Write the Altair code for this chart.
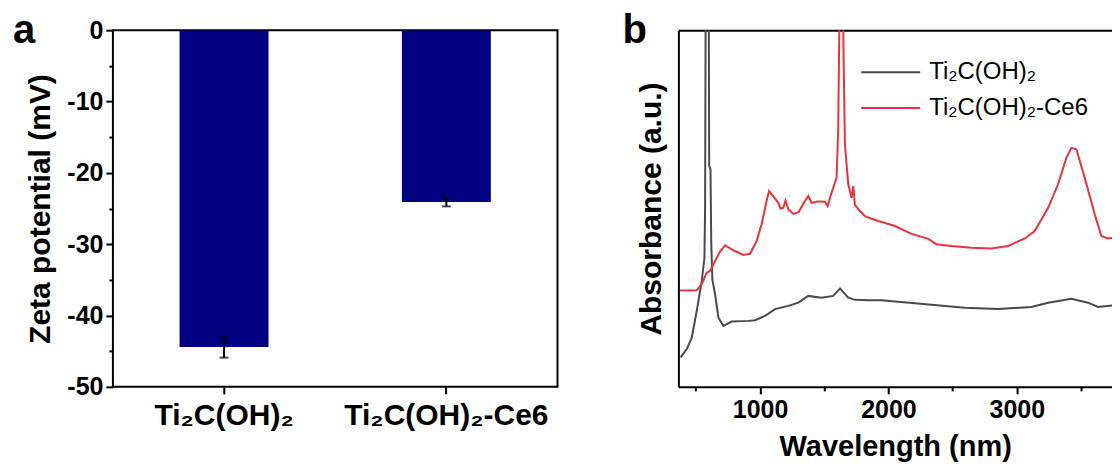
import altair as alt
import pandas as pd

FONT = "Liberation Sans"

# ---------------- panel a data ----------------
categories = ["Ti₂C(OH)₂", "Ti₂C(OH)₂-Ce6"]
zeta_mean = [-44.4, -24.1]
zeta_err = [1.5, 0.6]

# ---------------- panel b data ----------------
gray_wl = [383, 390, 429, 468, 507, 546, 567, 572, 577, 600, 604, 614, 620, 629, 650, 676, 714,
           779, 909, 961, 1039, 1117, 1220, 1298, 1376, 1479, 1570, 1623, 1687, 1739, 1843,
           1946, 2335, 2595, 2854, 3114, 3244, 3425, 3555, 3633, 3789]
gray_abs = [8.2, 8.7, 10.6, 13.8, 21.3, 29.7, 36.2, 50, 115, 115, 62, 61, 40, 30, 25.9, 19.4, 17.1,
            18.3, 18.5, 18.7, 19.9, 21.8, 22.7, 23.6, 25.5, 25.0, 25.5, 27.6, 25.0, 24.4, 24.3,
            24.3, 23.0, 22.2, 21.8, 22.4, 23.6, 24.7, 23.6, 22.4, 23.0]

red_wl = [377, 507, 546, 584, 611, 650, 690, 728, 792, 870, 922, 974, 1012, 1051, 1070, 1103,
          1142, 1160, 1181, 1199, 1220, 1260, 1300, 1350, 1376, 1402, 1450, 1506, 1526, 1557,
          1596, 1609, 1622, 1643, 1653, 1661, 1687, 1713, 1726, 1739, 1778, 1820, 1921, 2051,
          2180, 2310, 2374, 2491, 2647, 2802, 2932, 3062, 3140, 3244, 3321, 3386, 3425, 3464,
          3529, 3607, 3658, 3710, 3789]
red_abs = [27.0, 27.1, 28.8, 32.0, 32.5, 35.3, 38.0, 39.7, 38.3, 37.0, 37.3, 40.9, 45.6, 52.1, 54.9, 53.5,
           51.6, 50.0, 50.2, 52.3, 49.8, 48.5, 49.0, 52.1, 53.5, 51.6, 52.0, 51.9, 50.7, 54.4,
           58.6, 72.6, 115, 115, 86.6, 68.0, 56.8, 53.0, 56.3, 51.0, 49.3, 47.8, 46.5, 45.1,
           42.9, 41.5, 40.0, 39.5, 39.0, 38.8, 39.5, 41.6, 43.7, 50.2, 56.8, 64.2, 67.0, 66.6,
           58.6, 48.4, 42.3, 41.6, 42.0]

series_names = ["Ti₂C(OH)₂", "Ti₂C(OH)₂-Ce6"]
series_colors = ["#4a4a4a", "#e8343a"]

y_major = [0, -10, -20, -30, -40, -50]
y_minor = [-5, -15, -25, -35, -45]
x_major = [1000, 2000, 3000]
x_minor = [500, 1500, 2500, 3500]

bar_df = pd.DataFrame({
    "cat": categories,
    "mean": zeta_mean,
    "lo": [m - e for m, e in zip(zeta_mean, zeta_err)],
    "hi": [m + e for m, e in zip(zeta_mean, zeta_err)],
})

line_df = pd.concat([
    pd.DataFrame({"wl": gray_wl, "abs": gray_abs, "series": series_names[0]}),
    pd.DataFrame({"wl": red_wl, "abs": red_abs, "series": series_names[1]}),
], ignore_index=True)

WA, HA = 445, 357
WB = 434
X_DOMAIN = [364, 364 + WB / 0.1285]

# ---------------- panel a ----------------
xA = alt.X("cat:N", sort=categories, title=None,
           scale=alt.Scale(paddingInner=0.6, paddingOuter=0.3),
           axis=alt.Axis(labelAngle=0, labelFont=FONT, labelFontSize=30, labelFontWeight="bold",
                         labelColor="black", tickColor="black", tickSize=7, tickWidth=2,
                         domain=False, labelPadding=7, labelLimit=500))
xPlain = alt.X("cat:N", sort=categories, title=None)
yScaleA = alt.Scale(domain=[-50, 0], nice=False)

bars = alt.Chart(bar_df).mark_bar(color="#000080").encode(
    x=xA,
    y=alt.Y("mean:Q", scale=yScaleA, title="Zeta potential (mV)",
            axis=alt.Axis(values=y_major, orient="left", labelFont=FONT, labelFontSize=25,
                          labelExpr="datum.value == 0 ? '0' : '-' + abs(datum.value)",
                          labelFontWeight="bold", labelColor="black", tickColor="black",
                          tickSize=7, tickWidth=2, domain=False, labelPadding=3,
                          titleFont=FONT, titleFontSize=30, titleFontWeight="bold",
                          titleColor="black", titlePadding=11)),
)
minorA = alt.Chart(bar_df).mark_point(opacity=0).encode(
    y=alt.Y("mean:Q", scale=yScaleA, title=None,
            axis=alt.Axis(values=y_minor, orient="left", labels=False, domain=False,
                          tickColor="black", tickSize=4, tickWidth=2)),
)
err_rule = alt.Chart(bar_df).mark_rule(color="black", strokeWidth=2).encode(
    x=xPlain, y=alt.Y("lo:Q", scale=yScaleA, axis=None), y2="hi:Q")
err_lo = alt.Chart(bar_df).mark_tick(color="black", thickness=2, size=9).encode(
    x=xPlain, y=alt.Y("lo:Q", scale=yScaleA, axis=None))
err_hi = alt.Chart(bar_df).mark_tick(color="black", thickness=2, size=9).encode(
    x=xPlain, y=alt.Y("hi:Q", scale=yScaleA, axis=None))
letterA = alt.Chart(pd.DataFrame({"t": ["a"]})).mark_text(
    font=FONT, fontSize=40, fontWeight="bold", align="left", baseline="alphabetic", color="black"
).encode(text="t:N", x=alt.value(-100), y=alt.value(13))

panelA = alt.layer(bars, minorA, err_rule, err_lo, err_hi, letterA).resolve_axis(
    y="independent").properties(
    width=WA, height=HA, view=alt.ViewBackground(stroke="black", strokeWidth=2))

# ---------------- panel b ----------------
xScaleB = alt.Scale(domain=X_DOMAIN, nice=False, zero=False)
yScaleB = alt.Scale(domain=[0, 100], nice=False)

lines = alt.Chart(line_df).mark_line(strokeWidth=2, clip=True).encode(
    x=alt.X("wl:Q", scale=xScaleB, title="Wavelength (nm)",
            axis=alt.Axis(values=x_major, orient="bottom", format="d", labelFont=FONT,
                          labelFontSize=25, labelFontWeight="bold", labelColor="black",
                          tickColor="black", tickSize=7, tickWidth=2, domainColor="black",
                          domainWidth=2, labelPadding=4, titleFont=FONT, titleFontSize=29,
                          titleFontWeight="bold", titleColor="black", titlePadding=10)),
    y=alt.Y("abs:Q", scale=yScaleB, title="Absorbance (a.u.)",
            axis=alt.Axis(labels=False, ticks=False, domainColor="black", domainWidth=2,
                          titleFont=FONT, titleFontSize=30, titleFontWeight="bold",
                          titleColor="black", titlePadding=12)),
    color=alt.Color("series:N", scale=alt.Scale(domain=series_names, range=series_colors),
                    legend=alt.Legend(title=None, orient="none", legendX=748, legendY=31,
                                      symbolType="stroke", symbolSize=3481, symbolStrokeWidth=2,
                                      clipHeight=22, labelFont=FONT, labelFontSize=24,
                                      labelColor="black", labelOffset=8, rowPadding=12,
                                      labelLimit=400)),
    detail="series:N",
)
minorB = alt.Chart(line_df).mark_point(opacity=0, clip=True).encode(
    x=alt.X("wl:Q", scale=xScaleB, title=None,
            axis=alt.Axis(values=x_minor, orient="bottom", labels=False, domain=False,
                          tickColor="black", tickSize=4, tickWidth=2)),
    y=alt.Y("abs:Q", scale=yScaleB),
)
topB = alt.Chart(line_df).mark_point(opacity=0, clip=True).encode(
    x=alt.X("wl:Q", scale=xScaleB, title=None,
            axis=alt.Axis(orient="top", labels=False, ticks=False, domainColor="black",
                          domainWidth=2)),
    y=alt.Y("abs:Q", scale=yScaleB),
)
letterB = alt.Chart(pd.DataFrame({"t": ["b"]})).mark_text(
    font=FONT, fontSize=40, fontWeight="bold", align="left", baseline="alphabetic", color="black"
).encode(text="t:N", x=alt.value(-56), y=alt.value(13))

panelB = alt.layer(lines, minorB, topB, letterB).resolve_axis(x="independent").properties(
    width=WB, height=HA, view=alt.ViewBackground(stroke=None))

chart = alt.hconcat(panelA, panelB, spacing=64).properties(
    padding={"left": 4, "top": 2, "right": 0, "bottom": 0}
).configure_view(stroke=None).configure_axis(grid=False)

chart.save("out.html", embed_options={"renderer": "svg", "actions": False})
